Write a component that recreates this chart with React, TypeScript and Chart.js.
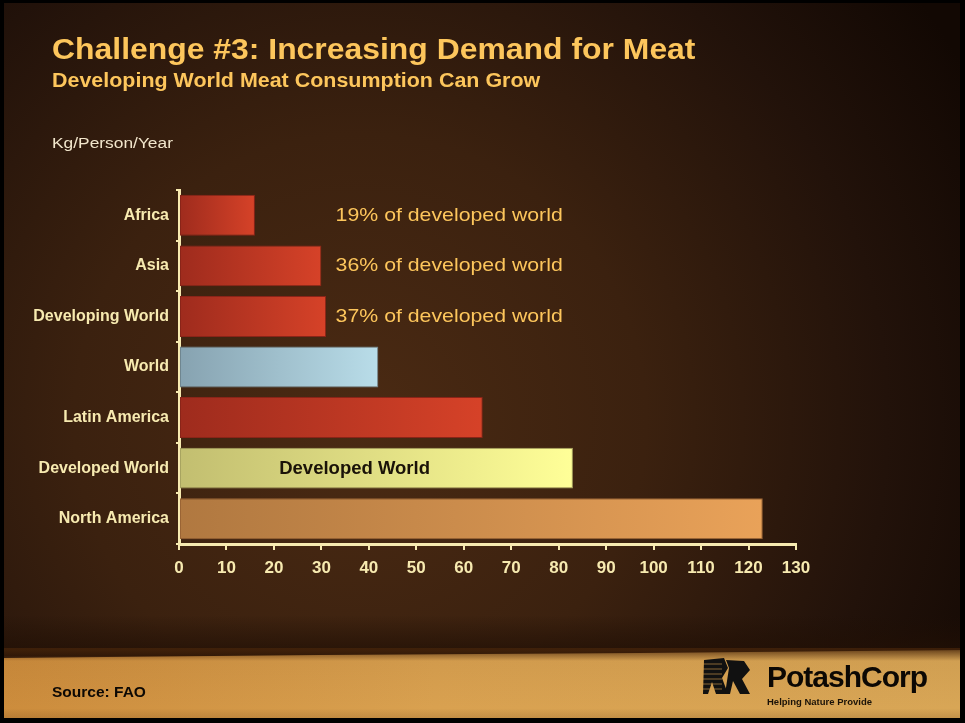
import React, { useEffect, useRef } from "react";
import { Chart, registerables } from "chart.js";

Chart.register(...registerables);

// ---------- data ----------
const categories = [
  "Africa",
  "Asia",
  "Developing World",
  "World",
  "Latin America",
  "Developed World",
  "North America",
];
const consumption = [16, 30, 31, 42, 64, 83, 123];
const xMin = 0;
const xMax = 130;
const xStep = 10;

const noteCategories = ["Africa", "Asia", "Developing World"];
const noteTexts = [
  "19% of developed world",
  "36% of developed world",
  "37% of developed world",
];
const inBarCategory = "Developed World";
const inBarText = "Developed World";

const titleText = "Challenge #3: Increasing Demand for Meat";
const subtitleText = "Developing World Meat Consumption Can Grow";
const unitText = "Kg/Person/Year";
const sourceText = "Source: FAO";
const logoText = "PotashCorp";
const taglineText = "Helping Nature Provide";

// ---------- styles ----------
const barStart = ["#9e2b1d", "#9e2b1d", "#9e2b1d", "#86a2b0", "#9e2b1d", "#c2be70", "#b07840"];
const barEnd = ["#d64228", "#d64228", "#d64228", "#b9dde9", "#d64228", "#ffff98", "#e9a259"];
const barBorder = ["#8a2418", "#8a2418", "#8a2418", "#6f8690", "#8a2418", "#a8a460", "#9a6434"];
const cream = "#f7eab0";
const gold = "#fdc65c";
const noteAtValue = 33;
const inBarAtValue = 37;
const FONT = "'Liberation Sans', Arial, Helvetica, sans-serif";

const decorPlugin = {
  id: "decor",
  beforeDraw(chart: any) {
    const { ctx, width, height } = chart;
    ctx.save();
    ctx.fillStyle = "#221208";
    ctx.fillRect(0, 0, width, height);
    const g = ctx.createRadialGradient(360, 420, 10, 360, 420, 700);
    g.addColorStop(0, "#4a2a13");
    g.addColorStop(0.4, "#3b210f");
    g.addColorStop(0.75, "#22120a");
    g.addColorStop(1, "#120803");
    ctx.fillStyle = g;
    ctx.fillRect(0, 0, width, height);
    // dark band above sand
    const band = ctx.createLinearGradient(0, 615, 0, 656);
    band.addColorStop(0, "rgba(30,14,4,0)");
    band.addColorStop(1, "rgba(34,16,5,0.85)");
    ctx.fillStyle = band;
    ctx.fillRect(0, 615, width, 41);
    // sand strip
    const sand = ctx.createLinearGradient(0, 0, width, 0);
    sand.addColorStop(0, "#cc8c3c");
    sand.addColorStop(0.45, "#d9a150");
    sand.addColorStop(1, "#d8a656");
    ctx.fillStyle = sand;
    ctx.beginPath();
    ctx.moveTo(0, 658);
    ctx.lineTo(320, 655);
    ctx.lineTo(640, 653);
    ctx.lineTo(width, 650);
    ctx.lineTo(width, height);
    ctx.lineTo(0, height);
    ctx.closePath();
    ctx.fill();
    const sandShade = ctx.createLinearGradient(0, 650, 0, 723);
    sandShade.addColorStop(0, "rgba(70,36,10,0.75)");
    sandShade.addColorStop(0.15, "rgba(70,36,10,0.05)");
    sandShade.addColorStop(0.8, "rgba(70,36,10,0)");
    sandShade.addColorStop(1, "rgba(90,50,16,0.25)");
    ctx.fillStyle = sandShade;
    ctx.fillRect(0, 648, width, height - 648);
    ctx.restore();
  },
  afterDatasetsDraw(chart: any) {
    const { ctx, scales } = chart;
    const xs = scales.x;
    const ys = scales.y;
    ctx.save();
    ctx.fillStyle = gold;
    ctx.font = `19px ${FONT}`;
    ctx.textBaseline = "middle";
    ctx.textAlign = "left";
    noteTexts.forEach((t, i) => {
      const idx = categories.indexOf(noteCategories[i]);
      const x = xs.getPixelForValue(noteAtValue);
      const y = ys.getPixelForValue(idx);
      ctx.save();
      ctx.translate(x, y);
      ctx.scale(1.12, 1);
      ctx.fillText(t, 0, 0);
      ctx.restore();
    });
    const di = categories.indexOf(inBarCategory);
    ctx.fillStyle = "#1a1208";
    ctx.font = `bold 18.5px ${FONT}`;
    ctx.textAlign = "center";
    ctx.fillText(inBarText, xs.getPixelForValue(inBarAtValue), ys.getPixelForValue(di) + 1);
    ctx.restore();
  },
  afterDraw(chart: any) {
    const { ctx, width, height } = chart;
    ctx.save();
    // logo mark
    ctx.fillStyle = "#111";
    ctx.beginPath();
    ctx.moveTo(704, 660);
    ctx.lineTo(724, 658);
    ctx.lineTo(728, 668);
    ctx.lineTo(722, 678);
    ctx.lineTo(728, 694);
    ctx.lineTo(716, 694);
    ctx.lineTo(712, 682);
    ctx.lineTo(708, 694);
    ctx.lineTo(703, 694);
    ctx.closePath();
    ctx.fill();
    ctx.beginPath();
    ctx.moveTo(726, 660);
    ctx.lineTo(744, 661);
    ctx.lineTo(750, 670);
    ctx.lineTo(742, 679);
    ctx.lineTo(750, 694);
    ctx.lineTo(740, 694);
    ctx.lineTo(733, 681);
    ctx.lineTo(730, 694);
    ctx.lineTo(725, 694);
    ctx.lineTo(729, 668);
    ctx.closePath();
    ctx.fill();
    ctx.strokeStyle = "rgba(216,160,82,0.6)";
    ctx.lineWidth = 1;
    for (let y = 664; y < 694; y += 5) {
      ctx.beginPath();
      ctx.moveTo(703, y);
      ctx.lineTo(722, y);
      ctx.stroke();
    }
    // frame
    ctx.fillStyle = "#000";
    ctx.fillRect(0, 0, width, 3);
    ctx.fillRect(0, 0, 4, height);
    ctx.fillRect(width - 5, 0, 5, height);
    ctx.fillRect(0, height - 5, width, 5);
    ctx.restore();
  },
};

export default function App() {
  const ref = useRef<HTMLCanvasElement | null>(null);

  useEffect(() => {
    document.body.style.margin = "0";
    const canvas = ref.current;
    if (!canvas) return;
    const chart = new Chart(canvas, {
      type: "bar",
      data: {
        labels: categories,
        datasets: [
          {
            data: consumption,
            backgroundColor: (c: any) => {
              const ch = c.chart;
              const i = c.dataIndex ?? 0;
              if (!ch.chartArea || !ch.scales?.x) return barEnd[i];
              const x0 = ch.scales.x.getPixelForValue(0);
              const x1 = ch.scales.x.getPixelForValue(consumption[i]);
              const g = ch.ctx.createLinearGradient(x0, 0, x1, 0);
              g.addColorStop(0, barStart[i]);
              g.addColorStop(1, barEnd[i]);
              return g;
            },
            borderColor: barBorder,
            borderWidth: 1,
            borderSkipped: false,
            barPercentage: 0.81,
            categoryPercentage: 1,
          },
        ],
      },
      options: {
        indexAxis: "y",
        responsive: false,
        animation: false,
        events: [],
        layout: { padding: { top: 190, right: 169, bottom: 139, left: 0 } },
        plugins: {
          legend: { display: false },
          tooltip: { enabled: false },
          title: { display: false },
        },
        scales: {
          x: {
            min: xMin,
            max: xMax,
            afterFit: (s: any) => {
              s.height = 40;
            },
            ticks: {
              stepSize: xStep,
              color: cream,
              padding: 8,
              maxRotation: 0,
              font: { family: FONT, size: 17, weight: "bold" },
            },
            grid: {
              drawOnChartArea: false,
              drawTicks: true,
              tickLength: 6,
              color: cream,
              lineWidth: 2,
            },
            border: { display: true, color: cream, width: 3 },
          },
          y: {
            afterFit: (s: any) => {
              s.width = 179;
            },
            ticks: {
              color: cream,
              padding: 7,
              font: { family: FONT, size: 16, weight: "bold" },
            },
            grid: {
              drawOnChartArea: false,
              drawTicks: true,
              tickLength: 3,
              color: cream,
              lineWidth: 2,
            },
            border: { display: true, color: cream, width: 3 },
          },
        },
      },
      plugins: [decorPlugin],
    } as any);
    return () => chart.destroy();
  }, []);

  const abs = (extra: React.CSSProperties): React.CSSProperties => ({
    position: "absolute",
    whiteSpace: "nowrap",
    lineHeight: 1,
    fontFamily: FONT,
    transformOrigin: "left top",
    pointerEvents: "none",
    margin: 0,
    ...extra,
  });

  return (
    <div style={{ position: "relative", width: 965, height: 723, overflow: "hidden" }}>
      <canvas ref={ref} width={965} height={723} style={{ display: "block", width: 965, height: 723 }} />
      <div style={abs({ left: 52, top: 34.5, fontSize: 29, fontWeight: "bold", color: gold, transform: "scaleX(1.1)" })}>
        {titleText}
      </div>
      <div style={abs({ left: 52, top: 71, fontSize: 19.5, fontWeight: "bold", color: gold, transform: "scaleX(1.1)" })}>
        {subtitleText}
      </div>
      <div style={abs({ left: 52, top: 135, fontSize: 15.5, color: "#f2e6cc", transform: "scaleX(1.12)" })}>
        {unitText}
      </div>
      <div style={abs({ left: 52, top: 684, fontSize: 15.5, fontWeight: "bold", color: "#0c0804" })}>
        {sourceText}
      </div>
      <div style={abs({ left: 767, top: 661.5, fontSize: 30, fontWeight: "bold", color: "#0c0804", letterSpacing: -1 })}>
        {logoText}
      </div>
      <div style={abs({ left: 767, top: 697, fontSize: 9.5, fontWeight: "bold", color: "#1a1208" })}>
        {taglineText}
      </div>
    </div>
  );
}
